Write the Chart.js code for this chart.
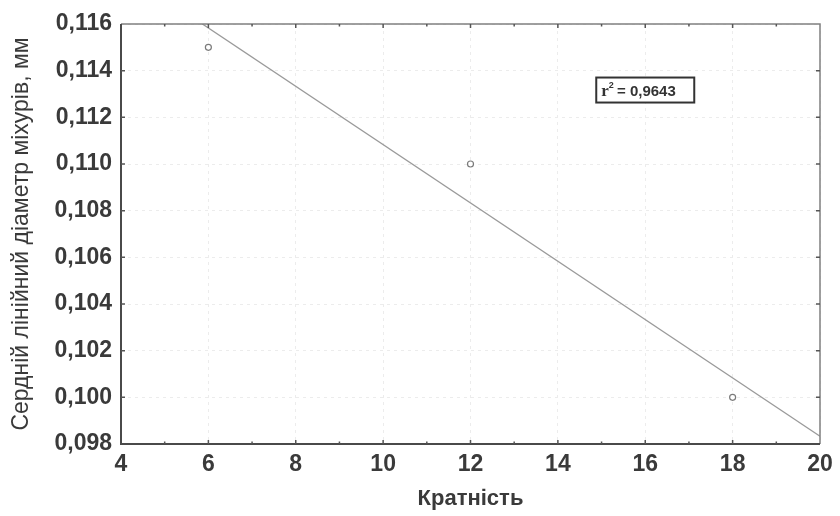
<!DOCTYPE html>
<html>
<head>
<meta charset="utf-8">
<script src="https://cdn.jsdelivr.net/npm/chart.js@4.4.1/dist/chart.umd.min.js"></script>
<style>
html,body{margin:0;padding:0;background:#fff;}
#wrap{width:840px;height:516px;}
</style>
</head>
<body>
<div id="wrap"><canvas id="c" width="840" height="516"></canvas></div>
<script>
// Data
const kratnist = [6, 12, 18];
const diameter = [0.115, 0.110, 0.100];
const fitX = [4, 20];
const fitY = [0.11833, 0.09833];
const xRange = [4, 20];
const yRange = [0.098, 0.116];
const xStep = 2;
const yStep = 0.002;
const xTitle = 'Кратність';
const yTitle = 'Сердній лінійний діаметр міхурів, мм';
const r2Text = ['r', '2', ' = 0,9643'];
const r2Pos = [16, 0.11317];

const fmt = v => Number(v).toFixed(3).replace('.', ',');

const frame = {
  id: 'frame',
  afterDraw(chart) {
    const {ctx, chartArea: a, scales: {x, y}} = chart;
    ctx.save();
    ctx.strokeStyle = '#808080';
    ctx.lineWidth = 1.5;
    ctx.beginPath();
    ctx.moveTo(a.left, a.top); ctx.lineTo(a.right, a.top); ctx.lineTo(a.right, a.bottom);
    ctx.stroke();
    ctx.strokeStyle = '#4a4a4a';
    ctx.lineWidth = 2;
    ctx.beginPath();
    ctx.moveTo(a.left, a.top); ctx.lineTo(a.left, a.bottom); ctx.lineTo(a.right, a.bottom);
    ctx.stroke();
    ctx.lineWidth = 1.5;
    ctx.strokeStyle = '#555';
    for (let v = xRange[0] + 1; v < xRange[1]; v += 1) {
      const px = x.getPixelForValue(v);
      const len = (v % 2 === 0) ? 4 : 2.5;
      ctx.beginPath();
      ctx.moveTo(px, a.bottom); ctx.lineTo(px, a.bottom - len);
      ctx.moveTo(px, a.top); ctx.lineTo(px, a.top + len);
      ctx.stroke();
    }
    for (let i = 1; i < Math.round((yRange[1] - yRange[0]) / yStep); i++) {
      const py = y.getPixelForValue(yRange[0] + i * yStep);
      ctx.beginPath();
      ctx.moveTo(a.left, py); ctx.lineTo(a.left + 4, py);
      ctx.moveTo(a.right, py); ctx.lineTo(a.right - 4, py);
      ctx.stroke();
    }
    // r2 annotation
    const cx = x.getPixelForValue(r2Pos[0]);
    const cy = y.getPixelForValue(r2Pos[1]);
    const w = 98, h = 25;
    ctx.fillStyle = '#fff';
    ctx.fillRect(cx - w / 2, cy - h / 2, w, h);
    ctx.strokeStyle = '#333';
    ctx.lineWidth = 2;
    ctx.strokeRect(cx - w / 2, cy - h / 2, w, h);
    ctx.fillStyle = '#333';
    ctx.textBaseline = 'alphabetic';
    ctx.textAlign = 'left';
    let tx = cx - w / 2 + 5;
    const by = cy + 6;
    ctx.font = 'bold 17px "Liberation Serif"';
    ctx.fillText(r2Text[0], tx, by);
    tx += ctx.measureText(r2Text[0]).width;
    ctx.font = 'bold 9px "Liberation Sans"';
    ctx.fillText(r2Text[1], tx, by - 8);
    tx += ctx.measureText(r2Text[1]).width - 1;
    ctx.font = 'bold 15px "Liberation Sans"';
    ctx.fillText(r2Text[2], tx, by);
    ctx.restore();
  }
};

new Chart(document.getElementById('c'), {
  type: 'scatter',
  data: {
    datasets: [
      {
        type: 'line',
        data: fitX.map((v, i) => ({x: v, y: fitY[i]})),
        borderColor: '#9a9a9a',
        borderWidth: 1.3,
        pointRadius: 0,
        fill: false,
        clip: 0
      },
      {
        data: kratnist.map((v, i) => ({x: v, y: diameter[i]})),
        pointRadius: 3,
        pointBorderWidth: 1.2,
        borderColor: '#7a7a7a',
        backgroundColor: '#fff'
      }
    ]
  },
  plugins: [frame],
  options: {
    responsive: false,
    animation: false,
    events: [],
    layout: {padding: {top: 24, right: 20, bottom: 0, left: 0}},
    plugins: {legend: {display: false}, tooltip: {enabled: false}},
    scales: {
      x: {
        type: 'linear',
        min: xRange[0], max: xRange[1],
        afterFit(s) { s.height = 72; },
        ticks: {stepSize: xStep, padding: 7, color: '#3a3a3a', font: {family: '"Liberation Sans"', size: 23, weight: 'bold'}},
        grid: {color: '#ececec', drawTicks: false, lineWidth: 1},
        border: {display: false, dash: [3, 4]},
        title: {display: true, text: xTitle, color: '#3a3a3a', font: {family: '"Liberation Sans"', size: 22, weight: 'bold'}, padding: {top: 0, bottom: 4}}
      },
      y: {
        type: 'linear',
        min: yRange[0], max: yRange[1],
        afterFit(s) { s.width = 121; },
        ticks: {stepSize: yStep, padding: 9, color: '#3a3a3a', font: {family: '"Liberation Sans"', size: 23, weight: 'bold'}, callback: v => fmt(v)},
        grid: {color: '#ececec', drawTicks: false, lineWidth: 1},
        border: {display: false, dash: [3, 4]},
        title: {display: true, text: yTitle, color: '#3a3a3a', font: {family: '"Liberation Sans"', size: 23}, padding: {top: 8, bottom: 4}}
      }
    }
  }
});
</script>
</body>
</html>
